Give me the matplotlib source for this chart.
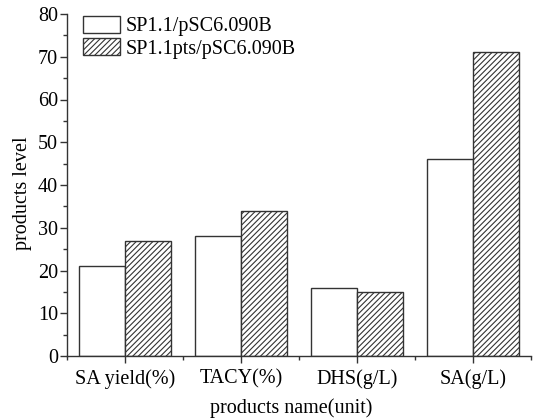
import matplotlib
matplotlib.use("Agg")
import matplotlib.pyplot as plt
import numpy as np
from matplotlib.ticker import MultipleLocator, FixedLocator

categories = ["SA yield(%)", "TACY(%)", "DHS(g/L)", "SA(g/L)"]
series1 = [21, 28, 16, 46]
series2 = [27, 34, 15, 71]
labels = ["SP1.1/pSC6.090B", "SP1.1pts/pSC6.090B"]

plt.rcParams['font.family'] = ['Liberation Serif', 'DejaVu Serif']
plt.rcParams['hatch.color'] = '#777777'
plt.rcParams['hatch.linewidth'] = 0.8

FS = 14.5
fig = plt.figure(figsize=(5.44, 4.18), dpi=100)
ax = fig.add_axes([67/544, 1-356/418, (531-67)/544, (356-14)/418])

x = np.arange(len(categories))
w = 0.4
ax.bar(x - w/2, series1, w, facecolor='white', edgecolor='#333333', linewidth=1.0, label=labels[0])
ax.bar(x + w/2, series2, w, facecolor='white', edgecolor='#333333', linewidth=1.0, hatch='//////', label=labels[1])

ax.set_xlim(-0.5, 3.5)
ax.set_ylim(0, 80)
ax.set_xticks(x)
ax.set_xticklabels(categories, fontsize=FS)
ax.xaxis.set_minor_locator(FixedLocator([-0.5, 0.5, 1.5, 2.5, 3.5]))
ax.yaxis.set_major_locator(MultipleLocator(10))
ax.yaxis.set_minor_locator(MultipleLocator(5))
ax.tick_params(axis='y', labelsize=FS, pad=1.5)
ax.tick_params(axis='x', pad=4.5)
ax.tick_params(which='major', direction='out', length=5, width=1.0, color='#333333')
ax.tick_params(which='minor', direction='out', length=3, width=1.0, color='#333333')
for s in ['top', 'right']:
    ax.spines[s].set_visible(False)
for s in ['left', 'bottom']:
    ax.spines[s].set_color('#333333')
    ax.spines[s].set_linewidth(1.0)

ax.set_xlabel("products name(unit)", fontsize=FS, labelpad=6)
ax.xaxis.set_label_coords(0.483, -0.125)
ax.set_ylabel("products level", fontsize=FS, labelpad=4)
ax.yaxis.label.set_y(0.475)

ax.legend(loc='upper left', bbox_to_anchor=(83/544, 1-16/418), bbox_transform=fig.transFigure,
          frameon=False, fontsize=FS, handlelength=1.84, handleheight=0.9, handletextpad=0.3,
          labelspacing=0.1, borderaxespad=0, borderpad=0)

fig.savefig("out.png", dpi=100)
